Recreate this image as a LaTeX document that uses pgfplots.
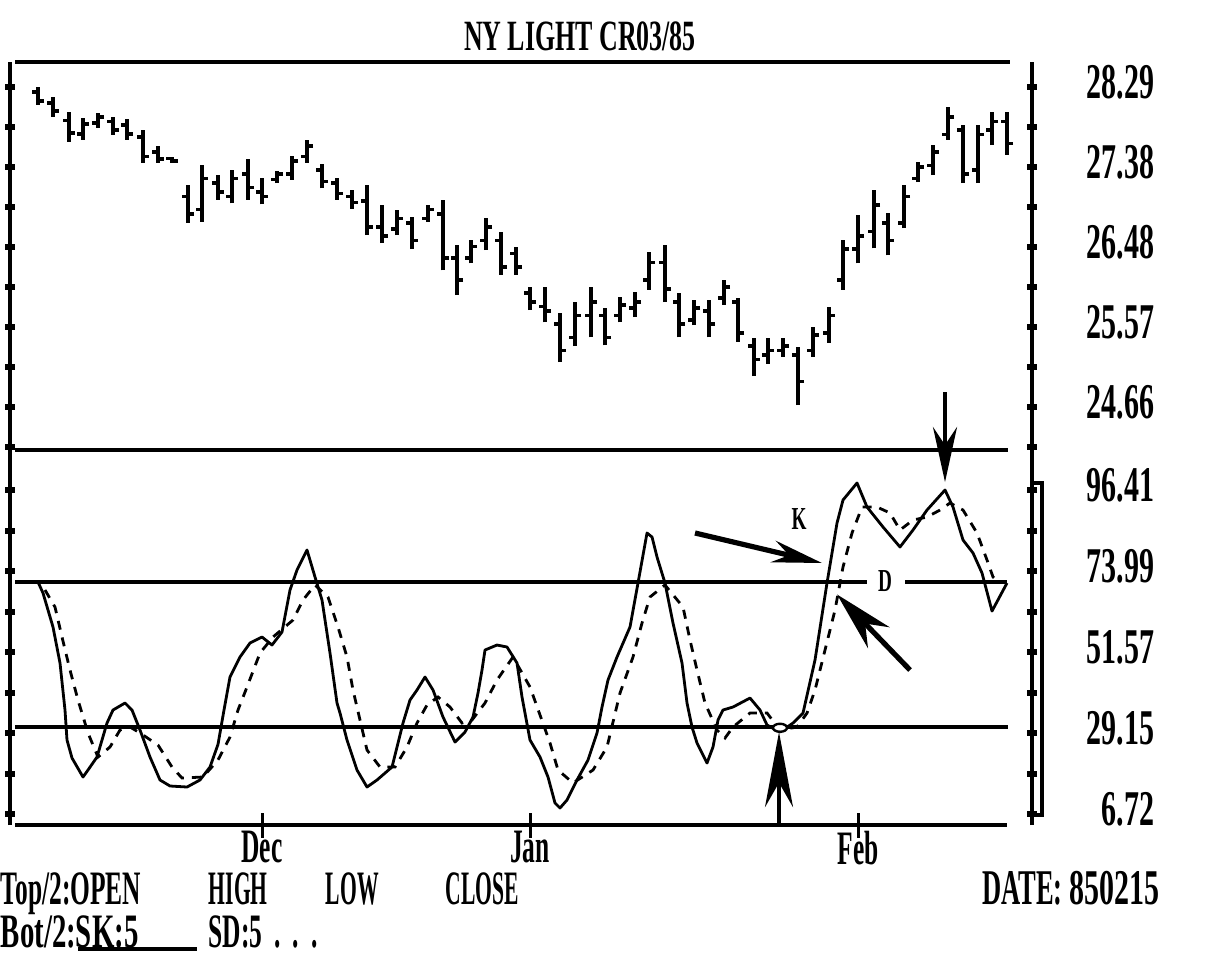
\documentclass[border=0pt]{standalone}
\usepackage{pgfplots}
\usepackage{pgfplotstable}
\pgfplotsset{compat=1.18}
\usepackage{fontspec}
\setmainfont{Liberation Serif}[FakeStretch=0.6]
\newfontfamily\narrowA{Liberation Serif}[FakeStretch=0.45]
\newfontfamily\narrowB{Liberation Serif}[FakeStretch=0.53]
\usetikzlibrary{arrows.meta}
\newcommand\lab{\fontsize{12.5}{13}\selectfont\bfseries}
\newcommand\labA{\fontsize{12}{13}\selectfont\narrowA\bfseries}
\newcommand\labB{\fontsize{12}{13}\selectfont\narrowB\bfseries}
\newcommand\labC{\fontsize{12}{13}\selectfont\bfseries}

\pgfplotstableread{
x H L O C
38 28.29 28.09 28.23 28.13
53 28.18 27.95 28.11 28.02
69 28.01 27.67 27.91 27.77
83 27.94 27.69 27.76 27.87
98 28.00 27.83 27.88 27.95
113 27.95 27.75 27.90 27.80
127 27.93 27.69 27.86 27.76
143 27.80 27.43 27.72 27.50
158 27.62 27.43 27.55 27.47
172 27.50 27.43 27.48 27.45
188 27.18 26.75 27.05 26.85
202 27.41 26.76 26.90 27.25
218 27.29 27.01 27.20 27.10
232 27.35 26.97 27.05 27.25
248 27.47 27.01 27.30 27.15
262 27.26 26.96 27.10 27.05
277 27.34 27.20 27.24 27.30
292 27.51 27.24 27.30 27.45
307 27.69 27.43 27.50 27.62
322 27.42 27.14 27.35 27.22
337 27.26 27.01 27.20 27.08
352 27.12 26.91 27.05 26.98
367 27.18 26.61 27.00 26.70
382 26.95 26.52 26.70 26.60
397 26.90 26.61 26.68 26.80
412 26.82 26.45 26.75 26.55
428 26.95 26.76 26.80 26.90
443 27.01 26.21 26.85 26.35
457 26.50 25.93 26.35 26.10
471 26.55 26.29 26.35 26.48
486 26.80 26.44 26.55 26.70
501 26.65 26.16 26.55 26.25
516 26.48 26.16 26.40 26.25
530 26.02 25.76 25.95 25.85
545 26.02 25.62 25.80 25.75
560 25.73 25.17 25.60 25.30
575 25.85 25.35 25.45 25.70
591 26.02 25.45 25.70 25.85
605 25.78 25.36 25.70 25.45
620 25.91 25.62 25.70 25.82
635 25.97 25.68 25.78 25.85
649 26.42 25.99 26.10 26.30
665 26.50 25.85 26.30 26.00
679 25.95 25.45 25.85 25.60
694 25.87 25.59 25.65 25.78
709 25.87 25.45 25.75 25.60
724 26.10 25.82 25.90 26.02
738 25.90 25.40 25.85 25.50
754 25.44 25.01 25.35 25.20
768 25.44 25.15 25.25 25.30
783 25.44 25.23 25.30 25.35
798 25.34 24.68 25.25 24.95
813 25.57 25.23 25.30 25.48
829 25.79 25.39 25.50 25.70
843 26.55 25.99 26.10 26.45
858 26.84 26.29 26.45 26.60
874 27.12 26.46 26.65 26.95
888 26.86 26.38 26.75 26.55
904 27.18 26.69 26.75 27.05
918 27.44 27.21 27.25 27.38
933 27.63 27.29 27.40 27.55
948 28.06 27.69 27.75 27.95
963 27.86 27.20 27.80 27.30
978 27.86 27.20 27.35 27.75
992 28.01 27.63 27.80 27.90
1007 28.01 27.52 27.90 27.65
}\bars

\pgfplotstableread{
x v
38 70.94
43 67.90
53 58.49
60 48.52
65 35.51
67 27.21
72 22.23
83 16.97
88 18.90
97 22.50
107 31.91
113 35.51
125 37.45
132 35.51
140 29.98
150 22.50
160 16.14
170 14.48
187 14.20
200 16.14
210 19.73
218 26.00
224 35.51
230 44.65
240 50.18
250 54.06
262 55.72
272 53.50
282 57.10
290 68.73
297 74.26
307 79.80
315 72.33
322 65.96
330 51.29
337 37.45
340 34.68
347 27.21
357 18.90
367 14.20
377 16.14
392 19.73
403 31.91
410 38.28
417 41.05
425 44.65
433 41.05
443 33.57
455 26.65
465 29.42
473 33.57
478 40.22
482 46.58
485 52.12
497 53.50
507 52.95
517 48.52
522 39.11
530 27.21
540 22.50
548 16.97
555 9.77
560 8.39
567 10.60
577 16.14
588 21.67
597 29.15
602 36.34
608 43.82
617 50.18
630 58.49
638 70.67
647 84.51
652 83.40
657 77.86
665 70.67
673 59.59
682 48.52
687 37.45
692 30.81
697 26.38
707 20.84
713 25.27
718 32.74
723 35.51
733 36.34
750 38.83
760 35.51
767 31.36
780 29.42
793 31.91
803 34.68
815 49.35
827 70.67
837 87.27
843 93.64
857 98.35
867 91.70
883 86.17
900 80.63
913 85.34
927 90.87
945 96.41
953 91.70
963 82.57
973 78.97
982 73.43
992 62.90
1007 70.67
}\kline

\pgfplotstableread{
x v
45 68.73
55 64.02
62 55.72
70 46.58
78 38.28
88 29.15
98 22.50
110 25.27
120 29.98
130 30.81
140 29.15
158 25.82
172 19.73
182 16.69
203 16.97
218 21.67
230 28.04
238 35.51
247 41.88
260 51.29
273 55.72
293 60.42
303 65.96
315 70.11
328 66.79
338 58.49
347 50.18
353 41.05
367 24.44
380 19.73
395 19.73
407 25.27
417 31.91
427 36.90
438 39.11
450 36.34
462 31.91
472 32.74
485 37.45
497 43.82
513 50.18
530 41.88
550 26.38
558 18.90
573 15.31
593 18.90
607 25.27
620 40.22
633 50.18
642 59.59
650 66.79
665 70.11
683 64.02
690 54.89
697 46.58
705 37.45
717 29.98
725 27.76
733 30.81
750 34.68
767 34.68
780 29.98
797 30.81
807 34.68
815 41.05
825 52.12
835 63.19
843 75.09
852 84.51
862 91.70
877 91.70
890 90.04
900 85.34
913 88.10
927 88.93
940 90.87
950 92.81
963 90.87
977 84.51
987 77.03
993 72.33
1000 70.67
}\dline

\begin{document}
\begin{tikzpicture}[x=0.25pt,y=0.25pt]
\useasboundingbox (0,0) rectangle (1206,-965);

% ---------------- top panel: OHLC bars ----------------
\begin{axis}[
  at={(2.5pt,-112.5pt)}, anchor=south west, scale only axis,
  width=255.5pt, height=97pt,
  xmin=10, xmax=1032, ymin=24.1722, ymax=28.5737,
  axis x line=none, axis y line=box,
  y axis line style={line width=1.1pt,-},
  ytick={28.29,27.83625,27.3825,26.92875,26.475,26.02125,25.5675,25.11375,24.66,24.20625},
  yticklabels={28.29,,27.38,,26.48,,25.57,,24.66,},
  yticklabel pos=right,
  major tick length=2.5pt, tick align=center,
  tick style={line width=1.5pt, black},
  yticklabel style={font=\lab, anchor=east, inner sep=0pt, xshift=29.5pt, yshift=1.25pt},
  /pgf/number format/assume math mode=true,
  clip=false,
]
\addplot[draw=none, mark=none, forget plot,
  error bars/.cd, y dir=plus, y explicit,
  error bar style={line width=1.2pt, black}, error mark=none]
  table[x=x, y=L, y error plus expr=\thisrow{H}-\thisrow{L}] {\bars};
\addplot[only marks, mark=-, mark size=0.75pt, mark options={line width=0.9pt, black}]
  table[x expr=\thisrow{x}-3, y=O] {\bars};
\addplot[only marks, mark=-, mark size=0.75pt, mark options={line width=0.9pt, black}]
  table[x expr=\thisrow{x}+3, y=C] {\bars};
\end{axis}

% ---------------- bottom panel: stochastics ----------------
\begin{axis}[
  at={(2.5pt,-112.5pt)}, anchor=north west, scale only axis,
  width=255.5pt, height=93.75pt,
  xmin=10, xmax=1032, ymin=3.68, ymax=107.48,
  axis x line*=bottom, x axis line style={draw=none},
  axis y line=box, y axis line style={line width=1.1pt,-},
  xtick=\empty,
  extra x ticks={262,530,858}, extra x tick labels={Dec,Jan,Feb},
  extra x tick style={major tick length=6.25pt, tick align=center,
     tick style={line width=0.75pt, black},
     xticklabel style={font=\labB, anchor=north, inner sep=0pt, yshift=1.8pt}},
  ytick={96.41,85.20,73.99,62.78,51.57,40.36,29.15,17.94,6.72},
  yticklabels={96.41,,73.99,,51.57,,29.15,,6.72},
  yticklabel pos=right,
  major tick length=2.5pt, tick align=center,
  ytick style={line width=1.5pt, black},
  yticklabel style={font=\lab, anchor=east, inner sep=0pt, xshift=29.5pt, yshift=1.25pt},
  /pgf/number format/assume math mode=true,
  clip=false,
]
% 70 / 30 reference lines
\draw[line width=1.15pt] (axis cs:15,70.94) -- (axis cs:867,70.94);
\draw[line width=1.15pt] (axis cs:905,70.94) -- (axis cs:1007,70.94);
\draw[line width=1.15pt] (axis cs:15,30.81) -- (axis cs:1008,30.81);
% K and D
\addplot[black, line width=0.7pt, mark=none, line join=round] table[x=x, y=v] {\kline};
\addplot[black, line width=0.7pt, mark=none, dash pattern=on 2.25pt off 2pt] table[x=x, y=v] {\dline};
% annotations
\draw[line width=1.2pt, -{Stealth[length=13.75pt, width=6pt]}] (axis cs:945,123.5) -- (axis cs:945,98.6);
\draw[fill=white, line width=0.6pt] (axis cs:780,30.6) ellipse [x radius=1.75pt, y radius=1pt];
\draw[line width=1.2pt, -{Stealth[length=18.75pt, width=7pt]}] (axis cs:779,4.2) -- (axis cs:779,29.4);
\draw[line width=1.3pt, -{Stealth[length=12.5pt, width=5.5pt]}] (axis cs:695,84.51) -- (axis cs:822,76.2);
\draw[line width=1.3pt, -{Stealth[length=15pt, width=7.5pt]}] (axis cs:910,46.58) -- (axis cs:837,67.5);
\node[font=\fontsize{8}{9}\selectfont\bfseries, inner sep=0pt] at (axis cs:799,88.3) {K};
\node[font=\fontsize{8}{9}\selectfont\bfseries, inner sep=0pt] at (axis cs:885,71.2) {D};
\draw[line width=0.9pt] (axis cs:1032,98.35) -- (axis cs:1042,98.35) -- (axis cs:1042,6.45) -- (axis cs:1032,6.45);
\end{axis}

% frame lines
\draw[line width=1.15pt] (15,-62) -- (1010,-62);
\draw[line width=1.15pt] (15,-450) -- (1008,-450);
\draw[line width=1.15pt] (15,-825) -- (1007,-825);

% texts
\node[anchor=base, font=\fontsize{10.8}{12}\selectfont\bfseries, inner sep=0pt] at (580,-50) {NY LIGHT CR03/85};
\node[anchor=base west, font=\labB, inner sep=0pt, text depth=0pt] at (0,-904) {Top/2:OPEN};
\node[anchor=base west, font=\labA, inner sep=0pt, text depth=0pt] at (208,-904) {HIGH};
\node[anchor=base west, font=\labA, inner sep=0pt, text depth=0pt] at (325,-904) {LOW};
\node[anchor=base west, font=\labA, inner sep=0pt, text depth=0pt] at (445,-904) {CLOSE};
\node[anchor=base east, font=\lab, inner sep=0pt, text depth=0pt] at (1160,-904) {\narrowB DATE:\ \normalfont\bfseries 850215};
\node[anchor=base west, font=\labC, inner sep=0pt] at (0,-947) {Bot/2:SK:5};
\node[anchor=base west, font=\labB, inner sep=0pt] at (208,-947) {SD:5\hspace{3pt}.\hspace{3pt}.\hspace{3pt}.};
\draw[line width=0.9pt] (78,-949) -- (197,-949);
\end{tikzpicture}
\end{document}
